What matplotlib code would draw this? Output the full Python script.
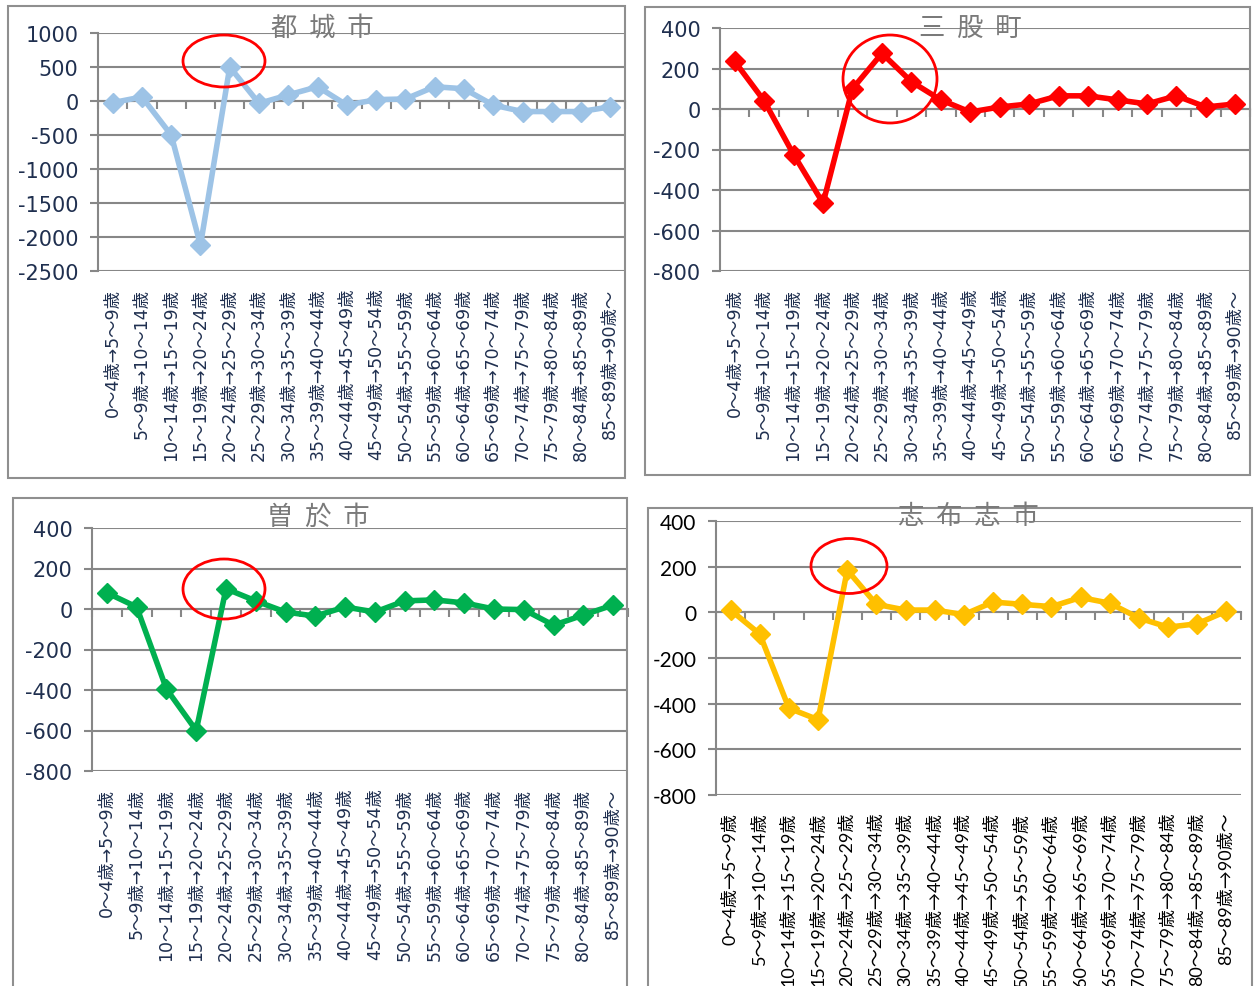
import numpy as np
import matplotlib
matplotlib.use("Agg")
import matplotlib.pyplot as plt
from matplotlib.patches import Rectangle, Ellipse

plt.rcParams["axes.unicode_minus"] = False

W, H = 1254, 987

# age-group transitions (x categories)
ages = ["0～4歳→5～9歳", "5～9歳→10～14歳", "10～14歳→15～19歳", "15～19歳→20～24歳",
        "20～24歳→25～29歳", "25～29歳→30～34歳", "30～34歳→35～39歳", "35～39歳→40～44歳",
        "40～44歳→45～49歳", "45～49歳→50～54歳", "50～54歳→55～59歳", "55～59歳→60～64歳",
        "60～64歳→65～69歳", "65～69歳→70～74歳", "70～74歳→75～79歳", "75～79歳→80～84歳",
        "80～84歳→85～89歳", "85～89歳→90歳～"]

miyakonojo = [-25, 60, -500, -2120, 500, -35, 90, 210, -60, 20, 30, 210, 180, -60, -155, -155, -155, -85]
mimata = [235, 40, -225, -465, 100, 275, 135, 45, -15, 10, 25, 65, 65, 45, 25, 65, 10, 25]
soo = [80, 10, -395, -600, 100, 40, -15, -35, 10, -15, 40, 45, 30, 0, -3, -80, -30, 20]
shibushi = [10, -95, -420, -470, 185, 35, 10, 10, -10, 45, 35, 25, 65, 40, -25, -65, -50, 5]

GRID = "#878787"
NAVY = "#1f2f4f"
JP = ["DejaVu Sans", "Noto Sans CJK JP"]
JP4 = ["Lato", "Noto Sans CJK JP"]

# each panel: title, data, colour, y range, y step, axes px (l, r, t, b), frame px, ellipse px, fonts
panels = [
    ("都  城  市", miyakonojo, "#9dc3e6", (-2500, 1000), 500, (98, 625, 34, 272),
     (8, 7, 625, 479), (224, 62, 82, 52), JP, NAVY, (322, 28), 12.5),
    ("三  股  町", mimata, "#ff0000", (-800, 400), 200, (720, 1250, 29, 272),
     (645, 8, 1250, 476), (890, 80, 94, 88), JP, NAVY, (970, 28), 12.5),
    ("曽  於  市", soo, "#00b050", (-800, 400), 200, (92, 628, 529, 772),
     (13, 499, 627, 995), (224, 590, 82, 60), JP, NAVY, (318, 517), 12.5),
    ("志  布  志  市", shibushi, "#ffc000", (-800, 400), 200, (716, 1241, 522, 796),
     (648, 509, 1252, 995), (849, 567, 76, 55), JP4, "black", (968, 517), 13),
]

fig = plt.figure(figsize=(W / 100, H / 100), dpi=100)

for title, vals, col, (ymin, ymax), step, (l, r, t, b), frame, ell, fam, tcol, tpos, xfs in panels:
    # panel frame
    fx0, fy0, fx1, fy1 = frame
    fig.patches.append(Rectangle((fx0 / W, 1 - fy1 / H), (fx1 - fx0) / W, (fy1 - fy0) / H,
                                 transform=fig.transFigure, fill=False, edgecolor="#8f8f8f",
                                 linewidth=1.5, zorder=0))

    ax = fig.add_axes([l / W, 1 - b / H, (r - l) / W, (b - t) / H])
    x = np.arange(len(ages))
    ax.plot(x, vals, color=col, linewidth=4, marker="D", markersize=10, zorder=3, clip_on=False)
    ax.set_xlim(-0.5, len(ages) - 0.5)
    ax.set_ylim(ymin, ymax)
    ax.set_yticks(np.arange(ymin, ymax + 1, step))
    ax.yaxis.grid(True, color=GRID, linewidth=1.5)
    ax.set_axisbelow(True)
    for s in ["top", "right", "bottom"]:
        ax.spines[s].set_visible(False)
    ax.spines["left"].set_color(GRID)
    ax.spines["left"].set_linewidth(1.5)
    ax.tick_params(axis="y", direction="out", length=6, width=1.5, color=GRID,
                   labelsize=15, labelcolor=tcol, pad=8)
    for lab in ax.get_yticklabels():
        lab.set_family(fam)
    ax.set_xticks(x)
    ax.set_xticklabels(ages, rotation=90, family=fam, fontsize=xfs, color=tcol)
    ax.tick_params(axis="x", length=0, pad=12)

    # category axis drawn at zero with boundary ticks
    zero = (0 - ymin) / (ymax - ymin)
    sec = ax.secondary_xaxis(zero)
    sec.set_xticks(np.arange(-0.5, len(ages), 1))
    sec.tick_params(axis="x", which="both", bottom=True, top=False, direction="out",
                    length=6, width=1.5, color=GRID, labelbottom=False, labeltop=False)
    for s in sec.spines.values():
        s.set_color(GRID)
        s.set_linewidth(1.5)

    fig.text(tpos[0] / W, 1 - tpos[1] / H, title, ha="center", va="center", fontsize=19,
             color="#7a7a7a", family=["Noto Sans CJK JP"], zorder=5)

    ex, ey, ew, eh = ell
    fig.patches.append(Ellipse((ex / W, 1 - ey / H), ew / W, eh / H, transform=fig.transFigure,
                               fill=False, edgecolor="#ff0000", linewidth=2, zorder=6))

fig.savefig("out.png", dpi=100)
